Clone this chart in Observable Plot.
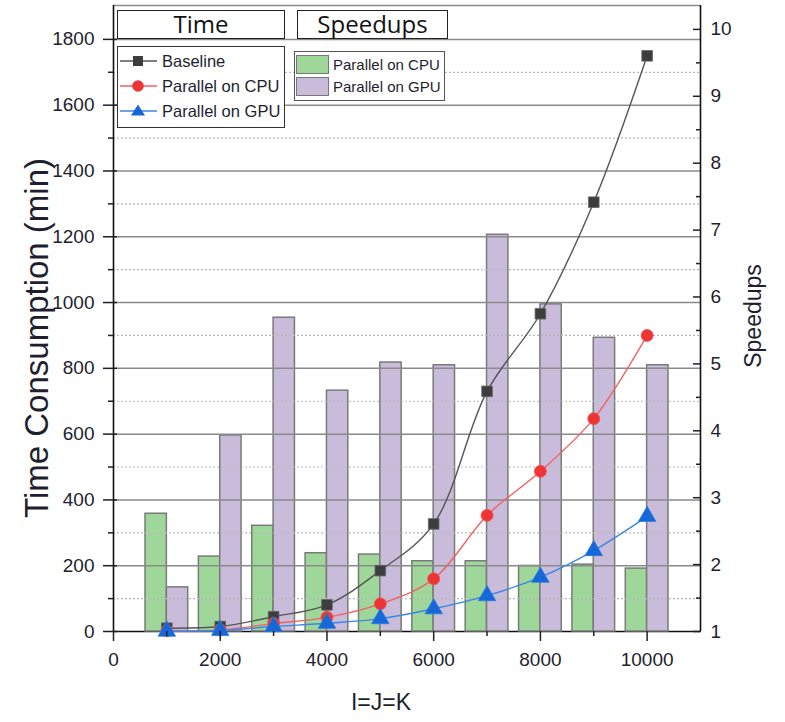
<!DOCTYPE html>
<html>
<head>
<meta charset="utf-8">
<script src="https://cdn.jsdelivr.net/npm/d3@7"></script>
<script src="https://cdn.jsdelivr.net/npm/@observablehq/plot@0.6"></script>
<style>
  html, body { margin: 0; padding: 0; background: #fff; }
  #wrap { position: relative; width: 785px; height: 722px; overflow: hidden; font-family: "Liberation Sans", Arial, sans-serif; color: #1e1e2e; }
  .abs { position: absolute; }
  .box { position: absolute; background: #fff; box-sizing: border-box; }
  .title { position: absolute; white-space: nowrap; transform: translate(-50%, -50%); }
</style>
</head>
<body>
<div id="wrap"></div>
<script>
// ---- data ----
const sizes = [1000, 2000, 3000, 4000, 5000, 6000, 7000, 8000, 9000, 10000];
const baselineTime = [10, 15, 45, 81, 185, 327, 730, 966, 1305, 1750];
const cpuTime = [2, 5, 24, 43, 84, 160, 353, 487, 647, 900];
const gpuTime = [1, 3, 15, 25, 39, 69, 109, 165, 246, 350];
const speedupCPU = [2.76, 2.12, 2.58, 2.17, 2.15, 2.05, 2.05, 1.98, 2.00, 1.94];
const speedupGPU = [1.66, 3.93, 5.69, 4.60, 5.02, 4.98, 6.93, 5.89, 5.39, 4.98];
const xTickLabels = [0, 2000, 4000, 6000, 8000, 10000];
const xMinorTicks = [1000, 3000, 5000, 7000, 9000];
const leftTicks = [0, 200, 400, 600, 800, 1000, 1200, 1400, 1600, 1800];
const leftMinor = [100, 300, 500, 700, 900, 1100, 1300, 1500, 1700];
const rightTicks = [1, 2, 3, 4, 5, 6, 7, 8, 9, 10];
const rightMinor = [1.5, 2.5, 3.5, 4.5, 5.5, 6.5, 7.5, 8.5, 9.5];

const X_MAX = 11000, Y_MAX = 1903, S_MAX = 10.357;
const toY = s => (s - 1) * Y_MAX / (S_MAX - 1);
const fromY = v => v * (S_MAX - 1) / Y_MAX + 1;

const rows = sizes.map((n, i) => ({
  n, base: baselineTime[i], cpu: cpuTime[i], gpu: gpuTime[i], sc: speedupCPU[i], sg: speedupGPU[i]
}));

const GREEN = "#9fd79b", PURPLE = "#c9bcdb";
const C_BASE = "#3d3d3d", C_BASE_L = "#555555";
const C_CPU = "#ee3535", C_CPU_L = "#f06262";
const C_GPU = "#1668d8", C_GPU_L = "#3a86e2";

const chart = Plot.plot({
  width: 785, height: 722,
  marginLeft: 113, marginRight: 85, marginTop: 5, marginBottom: 91,
  x: {domain: [0, X_MAX]},
  y: {domain: [0, Y_MAX]},
  style: {fontFamily: "'Liberation Sans', Arial, sans-serif", fontSize: "19px", color: "#1e1e2e", background: "white", overflow: "visible"},
  marks: [
    Plot.ruleY([0], {stroke: "#111", strokeWidth: 1.6}),
    Plot.rect(rows, {x1: d => d.n - 400, x2: d => d.n, y1: 0, y2: d => toY(d.sc), fill: GREEN, stroke: "#7a7a7a", strokeWidth: 1.5}),
    Plot.rect(rows, {x1: d => d.n, x2: d => d.n + 400, y1: 0, y2: d => toY(d.sg), fill: PURPLE, stroke: "#7a7a7a", strokeWidth: 1.5}),
    Plot.ruleY(leftTicks.filter(d => d > 0), {stroke: "#8a8a8a", strokeWidth: 1.5}),
    Plot.ruleY(leftMinor, {stroke: "#b8b8b8", strokeWidth: 1.2, strokeDasharray: "2,2"}),
    Plot.ruleY([Y_MAX], {stroke: "#8a8a8a", strokeWidth: 1.5}),
    Plot.line(rows, {x: "n", y: "base", curve: "catmull-rom", stroke: C_BASE_L, strokeWidth: 1.4}),
    Plot.dot(rows, {x: "n", y: "base", symbol: "square", r: 6, fill: C_BASE, stroke: "#666", strokeWidth: 0.8}),
    Plot.line(rows, {x: "n", y: "cpu", curve: "catmull-rom", stroke: C_CPU_L, strokeWidth: 1.4}),
    Plot.dot(rows, {x: "n", y: "cpu", symbol: "circle", r: 6, fill: C_CPU, stroke: "#f05050", strokeWidth: 0.8}),
    Plot.line(rows, {x: "n", y: "gpu", curve: "catmull-rom", stroke: C_GPU_L, strokeWidth: 1.4}),
    Plot.dot(rows, {x: "n", y: "gpu", symbol: "triangle", r: 6.5, fill: C_GPU, stroke: "#2a78e0", strokeWidth: 0.8}),
    Plot.ruleX([0], {stroke: "#111", strokeWidth: 1.6}),
    Plot.ruleX([X_MAX], {stroke: "#111", strokeWidth: 1.6}),
    Plot.axisX(xTickLabels, {tickSize: 10, tickPadding: 11, tickFormat: d => String(d), label: null, strokeWidth: 1.5}),
    Plot.axisX(xMinorTicks, {tickSize: 5, text: null, label: null, strokeWidth: 1.5}),
    Plot.axisY(leftTicks, {anchor: "left", tickSize: 10, tickPadding: 9, tickFormat: d => String(d), label: null, strokeWidth: 1.5}),
    Plot.axisY(leftTicks, {anchor: "left", tickSize: -4, text: null, label: null, strokeWidth: 1.5}),
    Plot.axisY(leftMinor, {anchor: "left", tickSize: 5, text: null, label: null, strokeWidth: 1.5}),
    Plot.axisY(rightTicks.map(toY), {anchor: "right", tickSize: -8, tickPadding: 18, tickFormat: v => String(Math.round(fromY(v))), label: null, strokeWidth: 1.5}),
    Plot.axisY(rightMinor.map(toY), {anchor: "right", tickSize: -5, text: null, label: null, strokeWidth: 1.5})
  ]
});

const wrap = document.getElementById("wrap");
wrap.appendChild(chart);

// ---- titles ----
function addTitle(text, cx, cy, size, rotate) {
  const d = document.createElement("div");
  d.className = "title";
  d.textContent = text;
  d.style.left = cx + "px";
  d.style.top = cy + "px";
  d.style.fontSize = size + "px";
  d.style.transform = "translate(-50%, -50%)" + (rotate ? " rotate(-90deg)" : "");
  wrap.appendChild(d);
}
addTitle("Time Consumption (min)", 37, 338, 33, true);
addTitle("Speedups", 753, 316, 23, true);
addTitle("I=J=K", 381, 702, 23, false);

// ---- legend headers ----
function header(text, left, width) {
  const b = document.createElement("div");
  b.className = "box";
  Object.assign(b.style, {left: left + "px", top: "10px", width: width + "px", height: "29px",
    border: "1.5px solid #222", fontFamily: "'Open Sans', sans-serif", fontSize: "24px",
    lineHeight: "26px", textAlign: "center", color: "#111"});
  b.textContent = text;
  wrap.appendChild(b);
}
header("Time", 117, 168);
header("Speedups", 297, 151);

// ---- time legend ----
const timeSeries = [
  {label: "Baseline", line: C_BASE_L, fill: C_BASE, sym: "square"},
  {label: "Parallel on CPU", line: C_CPU_L, fill: C_CPU, sym: "circle"},
  {label: "Parallel on GPU", line: C_GPU_L, fill: C_GPU, sym: "triangle"}
];
const tl = document.createElement("div");
tl.className = "box";
Object.assign(tl.style, {left: "117px", top: "46px", width: "168px", height: "82px", border: "1.5px solid #333"});
wrap.appendChild(tl);
timeSeries.forEach((s, i) => {
  const cy = 61 + i * 25;
  const svg = document.createElementNS("http://www.w3.org/2000/svg", "svg");
  svg.setAttribute("width", 40); svg.setAttribute("height", 20);
  svg.style.position = "absolute"; svg.style.left = "119px"; svg.style.top = (cy - 10) + "px";
  let m;
  if (s.sym === "square") m = `<rect x="14" y="5" width="10" height="10" fill="${s.fill}"/>`;
  else if (s.sym === "circle") m = `<circle cx="19" cy="10" r="5.8" fill="${s.fill}"/>`;
  else m = `<path d="M19,3.5 L26,14.5 L12,14.5 Z" fill="${s.fill}"/>`;
  svg.innerHTML = `<line x1="1" y1="10" x2="38" y2="10" stroke="${s.line}" stroke-width="1.5"/>` + m;
  wrap.appendChild(svg);
  const t = document.createElement("div");
  t.className = "abs";
  Object.assign(t.style, {left: "162px", top: (cy - 11) + "px", fontSize: "16.5px", lineHeight: "22px", whiteSpace: "nowrap"});
  t.textContent = s.label;
  wrap.appendChild(t);
});

// ---- speedup legend ----
const sl = document.createElement("div");
sl.className = "box";
Object.assign(sl.style, {left: "294px", top: "51px", width: "151px", height: "50px", border: "1.5px solid #555"});
wrap.appendChild(sl);
[{label: "Parallel on CPU", fill: GREEN}, {label: "Parallel on GPU", fill: PURPLE}].forEach((s, i) => {
  const top = 55 + i * 22;
  const r = document.createElement("div");
  r.className = "abs";
  Object.assign(r.style, {left: "296px", top: top + "px", width: "33px", height: "19px", background: s.fill, border: "1.5px solid #777", boxSizing: "border-box"});
  wrap.appendChild(r);
  const t = document.createElement("div");
  t.className = "abs";
  Object.assign(t.style, {left: "333px", top: (top - 1) + "px", fontSize: "15px", lineHeight: "21px", whiteSpace: "nowrap"});
  t.textContent = s.label;
  wrap.appendChild(t);
});
</script>
</body>
</html>
